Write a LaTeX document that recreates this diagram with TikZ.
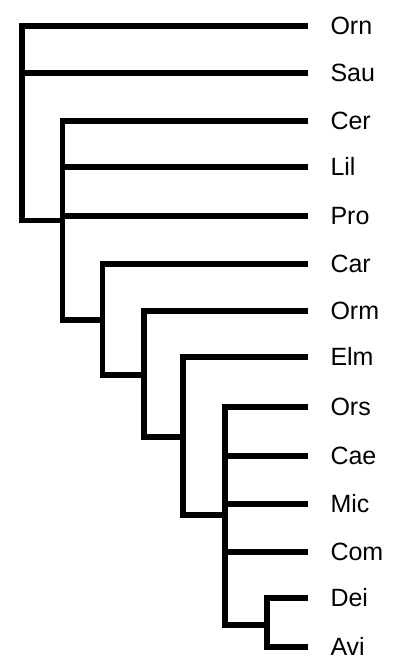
\documentclass[tikz,border=0pt]{standalone}
\usepackage{fontspec}
\setmainfont{Liberation Sans}
\begin{document}
\begin{tikzpicture}[x=1pt,y=-1pt,
  taxon/.style={anchor=west,inner xsep=22.3pt,inner ysep=0pt,text height=17.9pt,text depth=0pt,font=\fontsize{25}{30}\selectfont},
  branch/.style={line width=5.2pt,line cap=butt,line join=miter,black}]
\useasboundingbox (0,0) rectangle (403,664);
% taxa
\node[taxon] (Orn) at (308,26) {Orn};
\node[taxon] (Sau) at (308,73) {Sau};
\node[taxon] (Cer) at (308,121) {Cer};
\node[taxon] (Lil) at (308,167) {Lil};
\node[taxon] (Pro) at (308,216) {Pro};
\node[taxon] (Car) at (308,264) {Car};
\node[taxon] (Orm) at (308,311) {Orm};
\node[taxon] (Elm) at (308,357) {Elm};
\node[taxon] (Ors) at (308,407) {Ors};
\node[taxon] (Cae) at (308,456) {Cae};
\node[taxon] (Mic) at (308,504) {Mic};
\node[taxon] (Com) at (308,552) {Com};
\node[taxon] (Dei) at (308,598) {Dei};
\node[taxon] (Avi) at (308,647) {Avi};
% internal nodes (vertical x, joining y)
\coordinate (R) at (22,220.5);
\coordinate (A) at (62.5,320);
\coordinate (B) at (102.5,375);
\coordinate (C) at (144,437);
\coordinate (D) at (183,515);
\coordinate (E) at (225,625);
\coordinate (F) at (267,647);
% root
\draw[branch] (Orn.west) -| (R) -- (A |- R);
\draw[branch] (Sau.west) -- (R |- Sau.west);
% clade A
\draw[branch] (Cer.west) -| (A) -- (B |- A);
\draw[branch] (Lil.west) -- (A |- Lil.west);
\draw[branch] (Pro.west) -- (A |- Pro.west);
% clade B
\draw[branch] (Car.west) -| (B) -- (C |- B);
% clade C
\draw[branch] (Orm.west) -| (C) -- (D |- C);
% clade D
\draw[branch] (Elm.west) -| (D) -- (E |- D);
% clade E
\draw[branch] (Ors.west) -| (E) -- (F |- E);
\draw[branch] (Cae.west) -- (E |- Cae.west);
\draw[branch] (Mic.west) -- (E |- Mic.west);
\draw[branch] (Com.west) -- (E |- Com.west);
% clade F
\draw[branch] (Dei.west) -| (F) -- (Avi.west);
\end{tikzpicture}
\end{document}
